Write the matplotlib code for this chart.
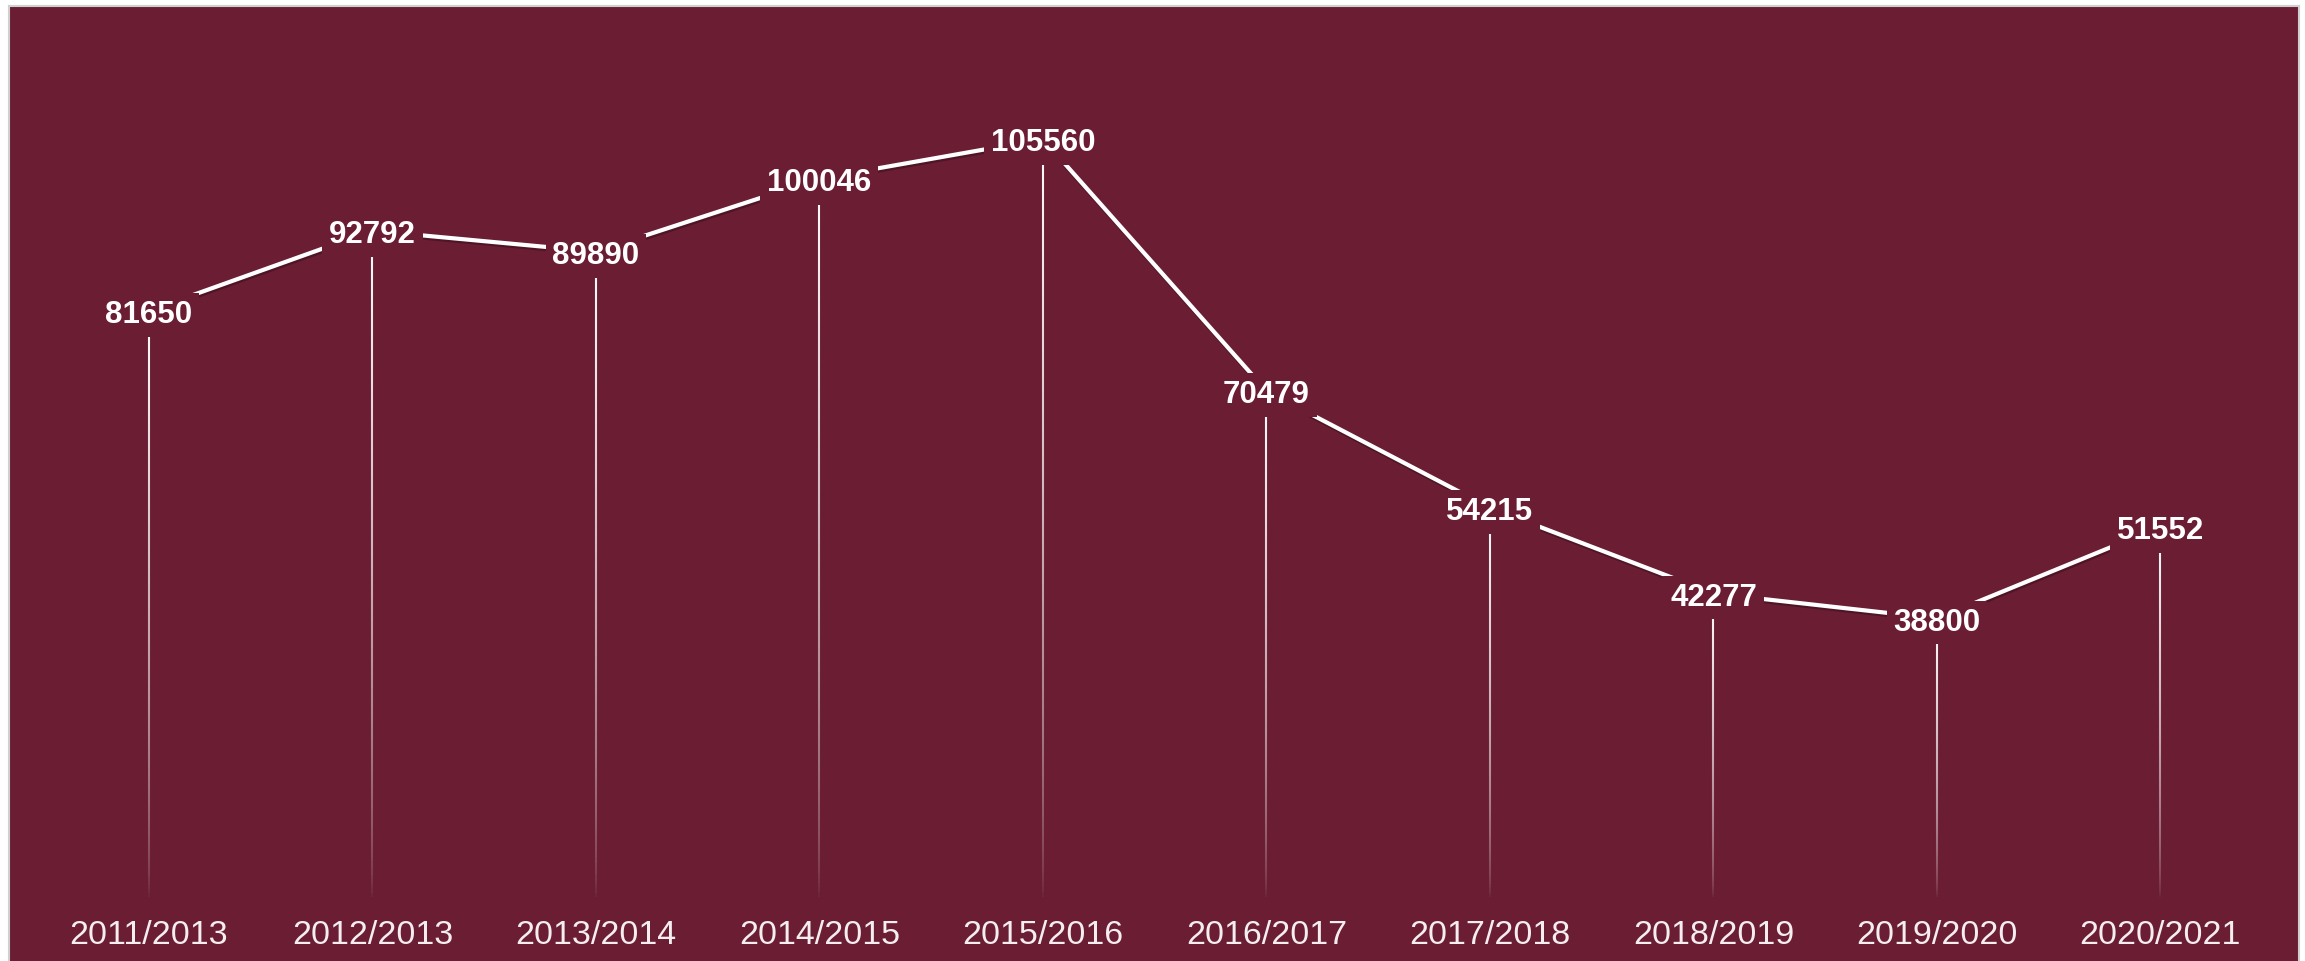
import matplotlib
matplotlib.use("Agg")
import matplotlib.pyplot as plt
import matplotlib.patheffects as pe
from matplotlib.collections import LineCollection
import numpy as np

years = ["2011/2013", "2012/2013", "2013/2014", "2014/2015", "2015/2016",
         "2016/2017", "2017/2018", "2018/2019", "2019/2020", "2020/2021"]
values = [81650, 92792, 89890, 100046, 105560, 70479, 54215, 42277, 38800, 51552]

BG = "#6a1d33"
W, H = 2305, 961

fig = plt.figure(figsize=(W / 100, H / 100), dpi=100, facecolor="white")
ax = fig.add_axes([9 / W, 0, 2290 / W, 955 / H])
ax.set_facecolor(BG)

x = np.arange(len(values))

# fading vertical drop lines
N = 150
segs, cols = [], []
for xi, v in zip(x, values):
    ys = np.linspace(0, v, N + 1)
    for k in range(N):
        segs.append([(xi, ys[k]), (xi, ys[k + 1])])
        frac = (ys[k] + ys[k + 1]) / 2 / v
        cols.append((1, 1, 1, frac ** 0.6))
lc = LineCollection(segs, colors=cols, linewidths=1.5, zorder=2, capstyle="butt")
ax.add_collection(lc)

# main line
ax.plot(x, values, color="white", lw=3, zorder=3, solid_capstyle="butt",
        path_effects=[pe.SimpleLineShadow(offset=(0.6, -1.6), shadow_color="black", alpha=0.25),
                      pe.Normal()])

# value labels
for xi, v in zip(x, values):
    ax.annotate(str(v), (xi, v), xytext=(0, -3), textcoords="offset points",
                ha="center", va="center", color="white",
                fontsize=22.5, fontweight="bold", family="Liberation Sans", zorder=4,
                bbox=dict(boxstyle="square,pad=0.22", facecolor=BG, edgecolor="none"))

ax.set_xlim(-0.6264, 9.62)
ax.set_ylim(-8914, 124095)

ax.set_xticks(x, labels=years)
ax.set_yticks([])
ax.tick_params(axis="x", length=0, pad=-18, labelcolor="#f4eef0", labelsize=24.5)
for lab in ax.get_xticklabels():
    lab.set_va("center")
    lab.set_family("Liberation Sans")

for side in ["top", "left", "right"]:
    ax.spines[side].set_color("#d0d0d0")
    ax.spines[side].set_linewidth(1.5)
ax.spines["bottom"].set_visible(False)

fig.savefig("out.png", dpi=100, facecolor="white")
